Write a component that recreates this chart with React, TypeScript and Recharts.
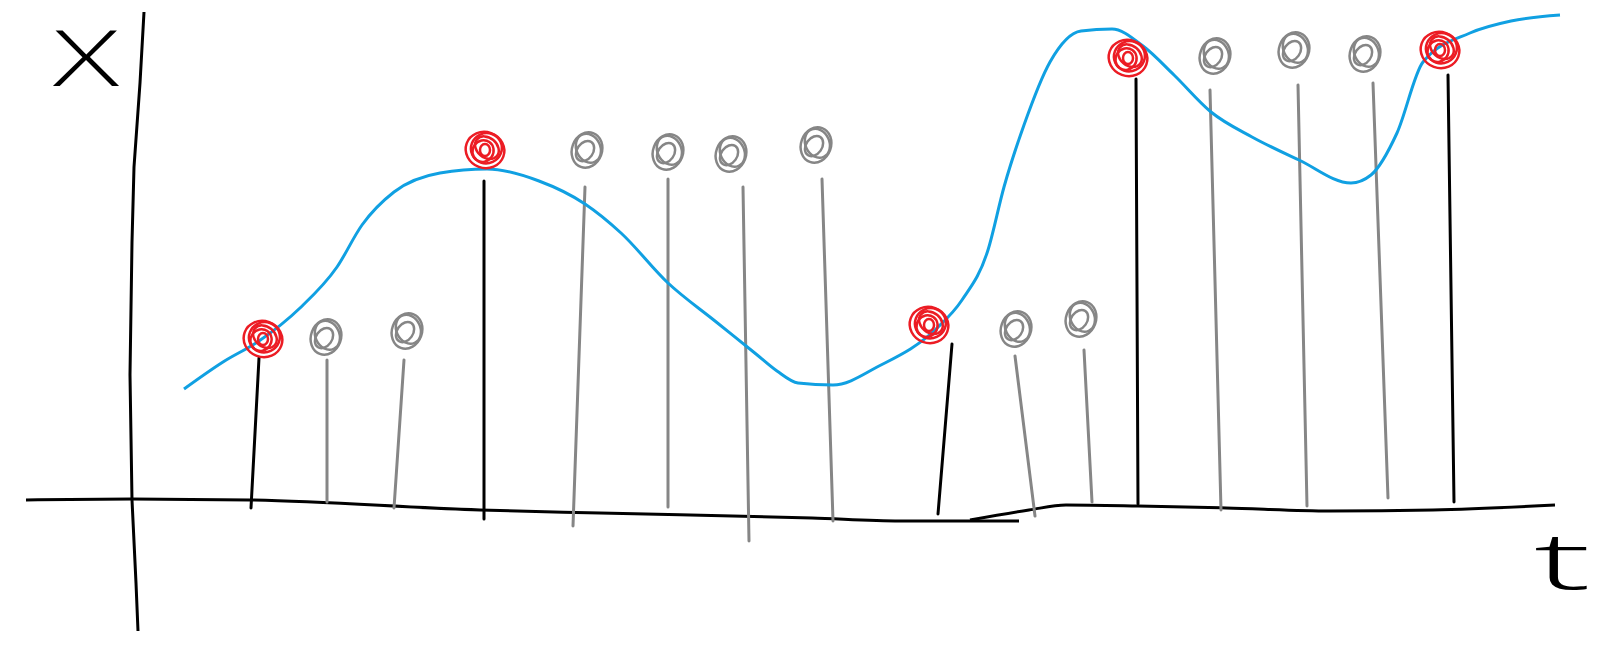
import { ComposedChart, XAxis, YAxis, Line, Scatter, ReferenceLine } from 'recharts'

// hand-drawn sketch: signal x(t) with samples (red) and alternative values (grey)

// blue curve, [t, x]
const CURVE: [number, number][] = [
  [0.52, 1.16], [0.91, 1.43], [1.27, 1.64], [1.68, 1.97], [2.05, 2.38], [2.3, 2.8],
  [2.62, 3.13], [3.08, 3.32], [3.55, 3.36], [4.07, 3.24], [4.53, 3.01], [4.89, 2.72],
  [5.36, 2.22], [5.83, 1.84], [6.24, 1.51], [6.45, 1.34], [6.66, 1.22], [7.01, 1.2],
  [7.47, 1.39], [8.04, 1.76], [8.3, 2.05], [8.56, 2.55], [8.72, 3.18], [8.92, 3.8],
  [9.18, 4.43], [9.49, 4.74], [9.8, 4.76], [10.11, 4.59], [10.42, 4.3], [10.79, 3.93],
  [11.2, 3.68], [11.67, 3.45], [12.19, 3.22], [12.39, 3.3], [12.65, 3.72], [12.91, 4.43],
  [13.38, 4.72], [13.79, 4.84], [14.28, 4.9],
]

// axes as drawn, [t, x]
const T_AXIS_A: [number, number][] = [
  [-1.06, 0.05], [0, 0.06], [1.18, 0.05], [3.48, -0.05], [4.68, -0.08], [6.8, -0.13], [7.68, -0.16], [8.87, -0.16],
]
const T_AXIS_B: [number, number][] = [
  [8.38, -0.15], [8.97, -0.05], [9.34, 0], [10.06, -0.01], [10.94, -0.03], [11.98, -0.06], [13.01, -0.05], [14.23, 0],
]
const X_AXIS: [number, number][] = [
  [0.12, 4.93], [0.08, 4.22], [0.02, 3.38], [0, 2.63], [-0.02, 1.3], [0, 0.05], [0.04, -0.78], [0.06, -1.26],
]

// stems: s = sample on the curve, g = grey alternative
const STEM_KIND = ['s', 'g', 'g', 's', 'g', 'g', 'g', 'g', 's', 'g', 'g', 's', 'g', 'g', 'g', 's']
const STEM_BASE: [number, number][] = [
  [1.19, -0.03], [1.95, 0.03], [2.62, -0.03], [3.52, -0.14], [4.41, -0.21], [5.36, -0.02], [6.17, -0.36], [7.01, -0.16],
  [8.06, -0.09], [9.03, -0.11], [9.6, 0.03], [10.06, 0.01], [10.89, -0.05], [11.75, -0.01], [12.56, 0.07], [13.22, 0.03],
]
const STEM_TOP: [number, number][] = [
  [1.27, 1.47], [1.95, 1.45], [2.72, 1.45], [3.52, 3.24], [4.53, 3.18], [5.36, 3.26], [6.11, 3.18], [6.9, 3.26],
  [8.2, 1.61], [8.83, 1.49], [9.52, 1.55], [10.04, 4.26], [10.78, 4.15], [11.66, 4.2], [12.41, 4.22], [13.16, 4.3],
]
const DOTS: [number, number][] = [
  [1.31, 1.66], [1.94, 1.68], [2.75, 1.74], [3.53, 3.55], [4.55, 3.55], [5.36, 3.53], [5.99, 3.51], [6.84, 3.6],
  [7.97, 1.8], [8.84, 1.76], [9.49, 1.86], [9.96, 4.47], [10.83, 4.49], [11.62, 4.55], [12.33, 4.51], [13.08, 4.55],
]

const BLUE = '#10a0e2'
const RED = '#ec1c24'
const GREY = '#868686'

const toPts = (arr: [number, number][]) => arr.map(([t, x]) => ({ t, x }))

const scribble = (color: string, wide: boolean) => (props: any) => {
  const { cx, cy } = props
  if (cx == null || cy == null) return <g />
  const k = wide ? 1.3 : 1
  return (
    <g fill="none" stroke={color} strokeWidth={2.5}>
      <ellipse cx={cx} cy={cy} rx={15 * k} ry={18} transform={`rotate(20 ${cx} ${cy})`} />
      <ellipse cx={cx + 2} cy={cy - 1} rx={12 * k} ry={15} transform={`rotate(-25 ${cx} ${cy})`} />
      <ellipse cx={cx - 1} cy={cy + 2} rx={8 * k} ry={11} transform={`rotate(35 ${cx} ${cy})`} />
      {wide && <ellipse cx={cx + 3} cy={cy} rx={10} ry={13} transform={`rotate(-50 ${cx} ${cy})`} />}
      {wide && <ellipse cx={cx} cy={cy} rx={5} ry={6} />}
    </g>
  )
}

const lineProps = {
  dataKey: 'x',
  strokeWidth: 3,
  dot: false,
  activeDot: false,
  isAnimationActive: false,
} as const

export default function App() {
  const curve = toPts(CURVE)
  const redDots = toPts(DOTS.filter((_, i) => STEM_KIND[i] === 's'))
  const greyDots = toPts(DOTS.filter((_, i) => STEM_KIND[i] === 'g'))

  return (
    <div style={{ position: 'absolute', left: 0, top: 0, width: 1624, height: 653, background: '#fff' }}>
      <ComposedChart width={1624} height={653} margin={{ top: 0, right: 0, bottom: 0, left: 0 }}>
        <XAxis type="number" dataKey="t" domain={[-1.32, 14.92]} allowDataOverflow hide />
        <YAxis type="number" dataKey="x" domain={[-1.48, 5.05]} allowDataOverflow hide />

        <Line {...lineProps} data={toPts(T_AXIS_A)} type="monotone" stroke="#000" />
        <Line {...lineProps} data={toPts(T_AXIS_B)} type="monotone" stroke="#000" />
        <Line {...lineProps} data={toPts(X_AXIS)} type="linear" stroke="#000" />

        {STEM_BASE.map((b, i) => (
          <ReferenceLine
            key={'stem' + i}
            segment={[
              { x: b[0], y: b[1] },
              { x: STEM_TOP[i][0], y: STEM_TOP[i][1] },
            ]}
            stroke={STEM_KIND[i] === 's' ? '#000' : GREY}
            strokeWidth={3}
            strokeLinecap="round"
          />
        ))}

        <Scatter data={greyDots} dataKey="x" shape={scribble(GREY, false)} isAnimationActive={false} />
        <Scatter data={redDots} dataKey="x" shape={scribble(RED, true)} isAnimationActive={false} />

        <Line {...lineProps} data={curve} type="monotone" stroke={BLUE} />
      </ComposedChart>
      <svg width={1624} height={653} style={{ position: 'absolute', left: 0, top: 0, pointerEvents: 'none' }}>
        <text x={53} y={86} fontFamily="Open Sans" fontWeight={300} fontSize={78} textLength={66} lengthAdjust="spacingAndGlyphs">
          X
        </text>
        <text x={1534} y={589} fontFamily="Open Sans" fontWeight={300} fontSize={80} textLength={57} lengthAdjust="spacingAndGlyphs">
          t
        </text>
      </svg>
    </div>
  )
}
